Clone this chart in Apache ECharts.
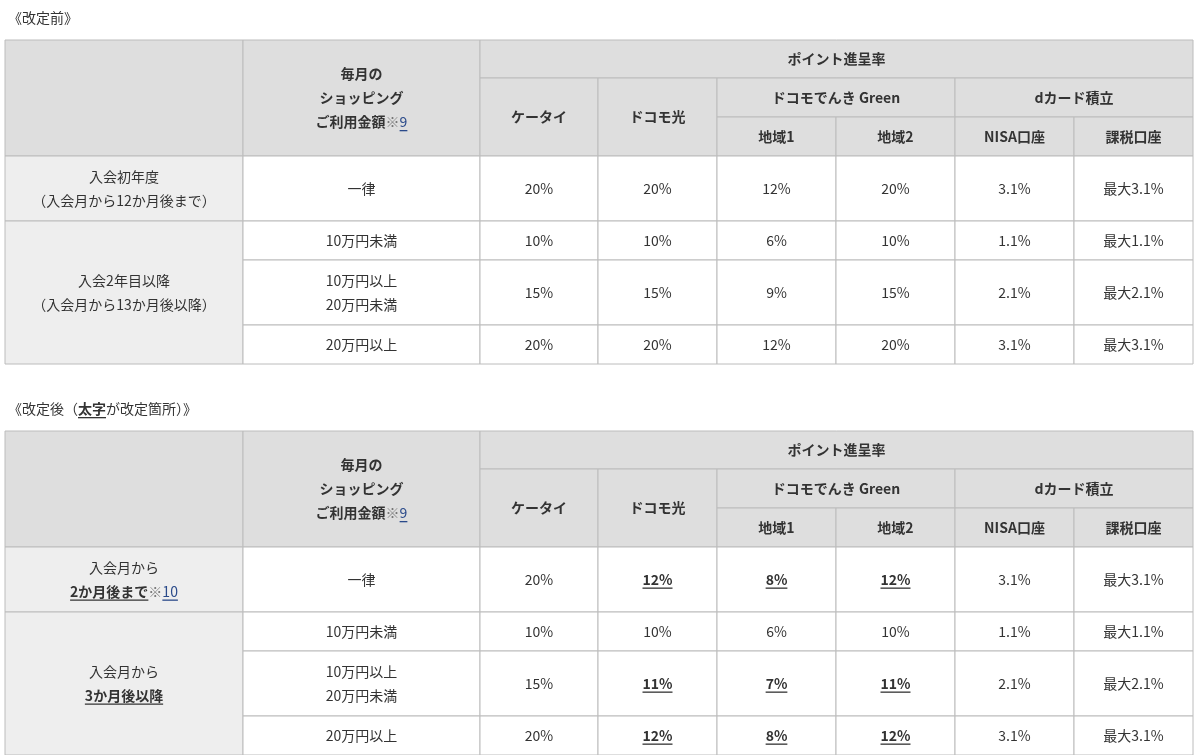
<!DOCTYPE html>
<html><head><meta charset="utf-8">
<script src="https://cdn.jsdelivr.net/npm/echarts@6/dist/echarts.min.js"></script>
<style>html,body{margin:0;padding:0;background:#fff}#c{width:1200px;height:755px}</style>
</head><body><div id="c"></div>
<script>
// ---- data ----
const titleBefore = [[{t:'《改定前》'}]];
const titleAfter = [[{t:'《改定後（'},{t:'太字',b:1,u:1},{t:'が改定箇所）》'}]];
const headerTop = 'ポイント進呈率';
const headerGroups = ['ドコモでんき Green','dカード積立'];
const headerCols = ['ケータイ','ドコモ光'];
const headerSub = ['地域1','地域2','NISA口座','課税口座'];
const amountLabels = ['一律','10万円未満','10万円以上\n20万円以上'.replace('以上\n20万円以上','以上\n20万円未満'),'20万円以上'];
const periodBefore = ['入会初年度\n（入会月から12か月後まで）','入会2年目以降\n（入会月から13か月後以降）'];
const ratesBefore = [
 ['20%','20%','12%','20%','3.1%','最大3.1%'],
 ['10%','10%','6%','10%','1.1%','最大1.1%'],
 ['15%','15%','9%','15%','2.1%','最大2.1%'],
 ['20%','20%','12%','20%','3.1%','最大3.1%']];
const ratesAfter = [
 ['20%','12%','8%','12%','3.1%','最大3.1%'],
 ['10%','10%','6%','10%','1.1%','最大1.1%'],
 ['15%','11%','7%','11%','2.1%','最大2.1%'],
 ['20%','12%','8%','12%','3.1%','最大3.1%']];
const changedAfter = [
 [0,1,1,1,0,0],[0,0,0,0,0,0],[0,1,1,1,0,0],[0,1,1,1,0,0]];

// ---- layout ----
const X = [5,243,480,598,717,836,955,1074,1193];
const RY = [40,78,117,156,221,260,325,364];
const OFF2 = 391;
const HEAD_BG='#dedede', SIDE_BG='#eeeeee', LINE='#bcbcbc', TXT='#333', LINK='#2a4a8a';
const FONT='"Noto Sans CJK JP","Noto Sans",sans-serif', FS=14, LH=24;

const cells=[]; // {x0,y0,x1,y1,bg,lines,align}
function segs(s,opt){return s.split('\n').map(l=>[Object.assign({t:l},opt||{})]);}
function addTable(off,period,rates,changed,after){
  const R=RY.map(v=>v+off);
  cells.push({x0:X[0],y0:R[0],x1:X[1],y1:R[3],bg:HEAD_BG,lines:[]});
  cells.push({x0:X[1],y0:R[0],x1:X[2],y1:R[3],bg:HEAD_BG,lines:[[{t:'毎月の',b:1}],[{t:'ショッピング',b:1}],[{t:'ご利用金額',b:1},{t:'※',c:'#777'},{t:'9',c:LINK,u:1}]]});
  cells.push({x0:X[2],y0:R[0],x1:X[8],y1:R[1],bg:HEAD_BG,lines:segs(headerTop,{b:1})});
  cells.push({x0:X[2],y0:R[1],x1:X[3],y1:R[3],bg:HEAD_BG,lines:segs(headerCols[0],{b:1})});
  cells.push({x0:X[3],y0:R[1],x1:X[4],y1:R[3],bg:HEAD_BG,lines:segs(headerCols[1],{b:1})});
  cells.push({x0:X[4],y0:R[1],x1:X[6],y1:R[2],bg:HEAD_BG,lines:segs(headerGroups[0],{b:1})});
  cells.push({x0:X[6],y0:R[1],x1:X[8],y1:R[2],bg:HEAD_BG,lines:segs(headerGroups[1],{b:1})});
  headerSub.forEach((h,i)=>cells.push({x0:X[4+i],y0:R[2],x1:X[5+i],y1:R[3],bg:HEAD_BG,lines:segs(h,{b:1})}));
  cells.push({x0:X[0],y0:R[3],x1:X[1],y1:R[4],bg:SIDE_BG,lines:period[0]});
  cells.push({x0:X[0],y0:R[4],x1:X[1],y1:R[7],bg:SIDE_BG,lines:period[1]});
  for(let r=0;r<4;r++){
    cells.push({x0:X[1],y0:R[3+r],x1:X[2],y1:R[4+r],bg:'#fff',lines:segs(amountLabels[r])});
    rates[r].forEach((v,c)=>cells.push({x0:X[2+c],y0:R[3+r],x1:X[3+c],y1:R[4+r],bg:'#fff',
      lines:segs(v,changed&&changed[r][c]?{b:1,u:1}:{})}));
  }
}
addTable(0,periodBefore.map(p=>segs(p)),ratesBefore,null);
addTable(OFF2,[
  [[{t:'入会月から'}],[{t:'2か月後まで',b:1,u:1},{t:'※',c:'#777'},{t:'10',c:LINK,u:1}]],
  [[{t:'入会月から'}],[{t:'3か月後以降',b:1,u:1}]]],ratesAfter,changedAfter);
const titles=[{x:8,y:18,lines:titleBefore},{x:8,y:409,lines:titleAfter}];

const mctx=document.createElement('canvas').getContext('2d');
function tw(s,b){mctx.font=(b?'bold ':'')+FS+'px '+FONT;return mctx.measureText(s).width;}
function lineEls(line,xStart,yc,api,xc){
  const els=[];let w=line.reduce((a,s)=>a+tw(s.t,s.b),0);
  let x = xc!=null? xc-w/2 : xStart;
  line.forEach(s=>{
    const sw=tw(s.t,s.b);
    els.push({type:'text',style:{x:x,y:yc,text:s.t,fill:s.c||TXT,font:(s.b?'bold ':'')+FS+'px '+FONT,textVerticalAlign:'middle',textAlign:'left'}});
    if(s.u) els.push({type:'rect',shape:{x:x,y:yc+FS/2+1,width:sw,height:1.3},style:{fill:s.c||TXT}});
    x+=sw;
  });
  return els;
}
const chart=echarts.init(document.getElementById('c'),null,{renderer:'canvas'});
chart.setOption({
  animation:false,
  grid:{left:0,right:0,top:0,bottom:0},
  xAxis:{type:'value',min:0,max:1200,show:false},
  yAxis:{type:'value',min:0,max:755,inverse:true,show:false},
  series:[{
    type:'custom',coordinateSystem:'cartesian2d',
    data:cells.map((c,i)=>[c.x0,c.y0,c.x1,c.y1,i]),
    renderItem:(p,api)=>{
      const c=cells[api.value(4)];
      const a=api.coord([api.value(0),api.value(1)]),b=api.coord([api.value(2),api.value(3)]);
      const ch=[{type:'rect',shape:{x:a[0],y:a[1],width:b[0]-a[0],height:b[1]-a[1]},style:{fill:c.bg,stroke:LINE,lineWidth:1}}];
      const n=c.lines.length,cy=(a[1]+b[1])/2,xc=(a[0]+b[0])/2;
      c.lines.forEach((l,k)=>ch.push(...lineEls(l,0,cy+(k-(n-1)/2)*LH,api,xc)));
      return {type:'group',children:ch};
    }
  },{
    type:'custom',coordinateSystem:'cartesian2d',
    data:titles.map((t,i)=>[t.x,t.y,i]),
    renderItem:(p,api)=>{
      const t=titles[api.value(2)];const a=api.coord([api.value(0),api.value(1)]);
      return {type:'group',children:lineEls(t.lines[0],a[0],a[1],api,null)};
    }
  }]
});
</script></body></html>
